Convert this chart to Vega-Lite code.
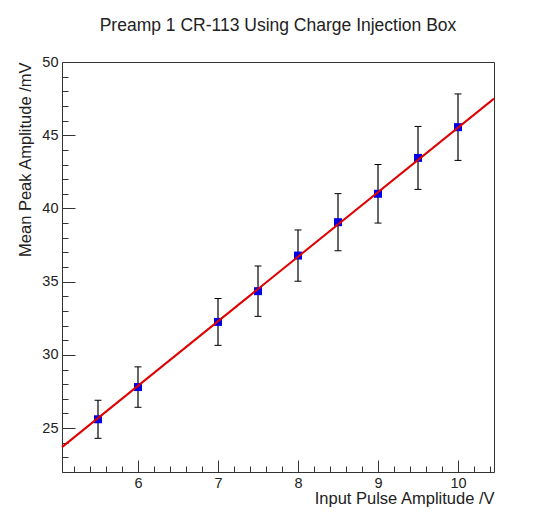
{
  "$schema": "https://vega.github.io/schema/vega-lite/v6.json",
  "width": 432,
  "height": 410,
  "autosize": "none",
  "padding": {"left": 62, "top": 62, "right": 53, "bottom": 52},
  "background": "white",
  "config": {
    "font": "Liberation Sans",
    "view": {"stroke": "#333", "strokeWidth": 1},
    "axis": {
      "labelFont": "Liberation Sans",
      "titleFont": "Liberation Sans",
      "labelColor": "#222",
      "titleColor": "#222",
      "titleFontWeight": "normal",
      "domainColor": "#333",
      "tickColor": "#333",
      "labelOverlap": false,
      "grid": false
    }
  },
  "title": {
    "text": "Preamp 1 CR-113 Using Charge Injection Box",
    "fontSize": 17.5,
    "fontWeight": "normal",
    "color": "#222",
    "anchor": "middle",
    "offset": 20
  },
  "datasets": {
    "points": [
      {"x": 5.5, "y": 25.6, "err": 1.3},
      {"x": 6.0, "y": 27.8, "err": 1.38},
      {"x": 7.0, "y": 32.25, "err": 1.6},
      {"x": 7.5, "y": 34.35, "err": 1.72},
      {"x": 8.0, "y": 36.78, "err": 1.75},
      {"x": 8.5, "y": 39.06, "err": 1.95},
      {"x": 9.0, "y": 41.0, "err": 2.0},
      {"x": 9.5, "y": 43.45, "err": 2.15},
      {"x": 10.0, "y": 45.55, "err": 2.27}
    ],
    "fit": [
      {"x": 5.05, "y": 23.7},
      {"x": 10.45, "y": 47.5}
    ]
  },
  "layer": [
    {
      "data": {"name": "points"},
      "mark": {"type": "errorbar", "color": "black", "opacity": 1, "ticks": {"size": 7, "color": "black", "thickness": 1, "opacity": 1}, "rule": {"color": "black", "strokeWidth": 1.2, "opacity": 1}},
      "encoding": {
        "x": {
          "field": "x", "type": "quantitative",
          "scale": {"domain": [5.05, 10.45], "nice": false, "zero": false},
          "axis": {
            "title": "Input Pulse Amplitude /V",
            "titleAnchor": "end",
            "titleFontSize": 16.5,
            "titlePadding": -5,
            "labelFontSize": 14.5,
            "labelPadding": 16,
            "tickCount": 100,
            "values": [5.2, 5.4, 5.6, 5.8, 6, 6.2, 6.4, 6.6, 6.8, 7, 7.2, 7.4, 7.6, 7.8, 8, 8.2, 8.4, 8.6, 8.8, 9, 9.2, 9.4, 9.6, 9.8, 10, 10.2, 10.4],
            "labelExpr": "abs(datum.value - round(datum.value)) < 0.001 ? format(datum.value, 'd') : ''",
            "tickSize": {"condition": {"test": "abs(datum.value - round(datum.value)) < 0.001", "value": -12}, "value": -6},
            "domain": false
          }
        },
        "y": {
          "field": "y", "type": "quantitative",
          "scale": {"domain": [22, 50], "nice": false, "zero": false},
          "axis": {
            "title": "Mean Peak Amplitude /mV",
            "titleAnchor": "end",
            "titleFontSize": 16.5,
            "titlePadding": 8,
            "labelFontSize": 14.5,
            "labelPadding": 17,
            "tickCount": 100,
            "values": [22, 23, 24, 25, 26, 27, 28, 29, 30, 31, 32, 33, 34, 35, 36, 37, 38, 39, 40, 41, 42, 43, 44, 45, 46, 47, 48, 49, 50],
            "labelExpr": "datum.value % 5 === 0 ? format(datum.value, 'd') : ''",
            "tickSize": {"condition": {"test": "datum.value % 5 === 0", "value": -13}, "value": -6},
            "domain": false
          }
        },
        "yError": {"field": "err"}
      }
    },
    {
      "data": {"name": "points"},
      "mark": {"type": "point", "shape": "square", "filled": true, "size": 64, "color": "#0000e6", "opacity": 1},
      "encoding": {
        "x": {"field": "x", "type": "quantitative"},
        "y": {"field": "y", "type": "quantitative"}
      }
    },
    {
      "data": {"name": "fit"},
      "mark": {"type": "line", "color": "#e00000", "strokeWidth": 2},
      "encoding": {
        "x": {"field": "x", "type": "quantitative"},
        "y": {"field": "y", "type": "quantitative"}
      }
    }
  ]
}
